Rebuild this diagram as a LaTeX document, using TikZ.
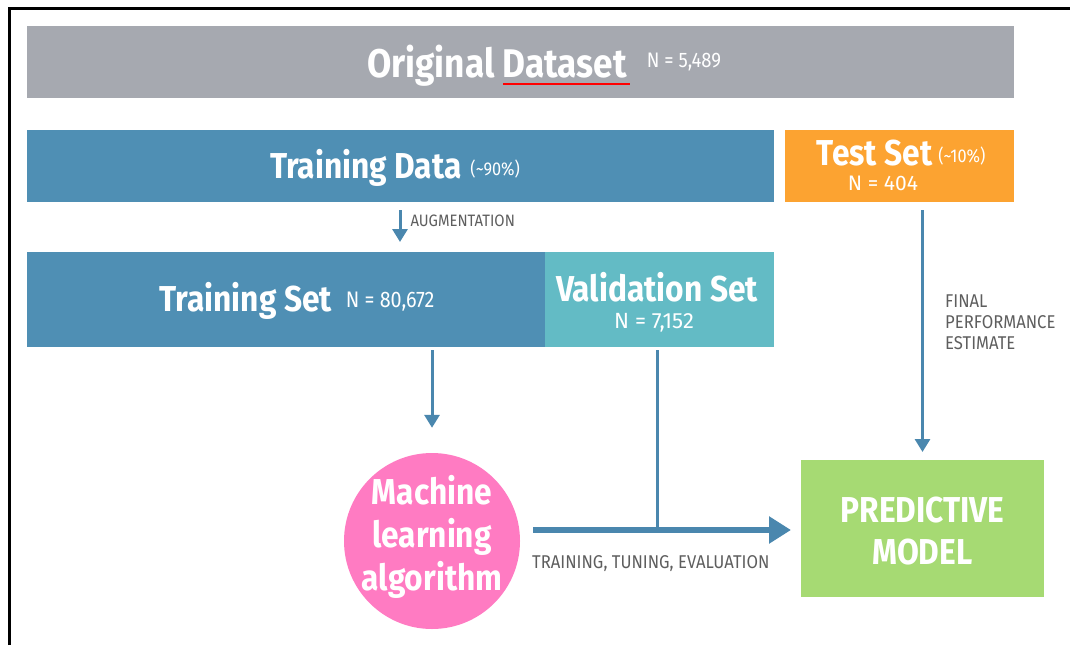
\documentclass[tikz,border=0pt]{standalone}
\usepackage{fontspec}
\setmainfont{Fira Sans}
\newfontfamily\headfont[FakeStretch=0.88]{Fira Sans}
\newfontfamily\notefont[FakeStretch=0.9]{Fira Sans}
\usetikzlibrary{arrows.meta,positioning}

\definecolor{dsgray}{HTML}{A6A9B0}
\definecolor{trblue}{HTML}{4F8FB4}
\definecolor{valteal}{HTML}{63BBC5}
\definecolor{testorange}{HTML}{FCA331}
\definecolor{mlpink}{HTML}{FF7BC2}
\definecolor{modgreen}{HTML}{A6DA73}
\definecolor{flowblue}{HTML}{4A87AE}
\definecolor{notegray}{HTML}{5E5E5E}

\newcommand\sm[2]{{\mdseries\fontsize{#1}{#1}\selectfont #2}}

\tikzset{
  block/.style={inner sep=0pt,outer sep=0pt,anchor=north west},
  head/.style={text=white,font=\headfont\bfseries\fontsize{36}{43}\selectfont},
  count/.style={text=white,font=\fontsize{22}{24}\selectfont},
  note/.style={text=notegray,font=\notefont\fontsize{16.5}{21}\selectfont,inner sep=0pt},
  flow/.style={flowblue,line width=3pt,-{Triangle[width=15pt,length=13pt]}},
  bigflow/.style={flowblue,line width=6pt,-{Triangle[width=26pt,length=22pt]}}
}

\begin{document}
\begin{tikzpicture}[x=1pt,y=-1pt]
\useasboundingbox (0,0) rectangle (1070,645);
\draw[line width=3pt] (9,645)--(9,8)--(1070,8);

% data blocks
\node[block,fill=dsgray,minimum width=987pt,minimum height=72pt] (orig) at (27,26) {};
\node[block,fill=trblue,minimum width=747pt,minimum height=72pt] (tdata) at (27,130) {};
\node[block,fill=testorange,minimum width=229pt,minimum height=72pt] (test) at (785,130) {};
\node[block,fill=trblue,minimum width=518pt,minimum height=95pt] (tset) at (27,252) {};
\node[block,fill=valteal,minimum width=229pt,minimum height=95pt] (vset) at (545,252) {};
\node[circle,fill=mlpink,minimum size=176pt,inner sep=0pt] (ml) at (432,541) {};
\node[block,fill=modgreen,minimum width=243pt,minimum height=137pt] (pm) at (801,460) {};

% labels
\node[anchor=base west,inner sep=0pt,head,font=\headfont\bfseries\fontsize{40}{46}\selectfont] (origlbl) at (367,77)
  {Original Dataset\hspace{20pt}\raisebox{10pt}{\sm{21}{N = 5,489}}};
\draw[red,line width=2.5pt] (503,84)--(630,84);
\node[anchor=base,inner sep=0pt,head] (tdlbl) at (395,178)
  {Training Data\hspace{9pt}\raisebox{3pt}{\sm{18.5}{(\textasciitilde90\%)}}};
\node[anchor=base,inner sep=0pt,head] (testlbl) at (901,165)
  {Test Set\hspace{6pt}\raisebox{3pt}{\sm{18.5}{(\textasciitilde10\%)}}};
\node[anchor=base,inner sep=0pt,count,font=\fontsize{21}{24}\selectfont] (testn) at (883,190) {N = 404};
\node[anchor=base,inner sep=0pt,head] (tslbl) at (297,311)
  {Training Set\hspace{14pt}\raisebox{4pt}{\sm{22.5}{N = 80,672}}};
\node[anchor=base,inner sep=0pt,head] (vslbl) at (657,301) {Validation Set};
\node[anchor=base,inner sep=0pt,count] (vsn) at (654,328) {N = 7,152};
\node[head,align=center,inner sep=0pt] (mllbl) at ([yshift=4pt]ml.center)
  {Machine\\learning\\algorithm};
\node[head,align=center,inner sep=0pt,font=\headfont\bfseries\fontsize{36}{42}\selectfont] (pmlbl) at ([yshift=-3pt]pm.center)
  {PREDICTIVE\\MODEL};

% connectors
\coordinate (augx) at (400,0);
\coordinate (joint) at (657,530);
\draw[flow,shorten <=8pt,shorten >=10pt] (tdata.south -| augx) -- (tset.north -| augx)
  node[note,pos=0.38,anchor=west,xshift=9pt] (auglbl) {AUGMENTATION};
\draw[flow,shorten <=3pt,shorten >=25pt] (tset.south -| ml) -- (ml.north);
\draw[flowblue,line width=3pt,shorten <=3pt] (vset.south -| joint) -- (joint);
\draw[bigflow,shorten >=10pt] ([xshift=13pt]ml.east |- joint) -- (pm.west |- joint);
\node[note,anchor=base west,font=\notefont\fontsize{18.5}{21}\selectfont] (tuning) at (532,568) {TRAINING, TUNING, EVALUATION};
\draw[flow,shorten <=8pt,shorten >=8pt] (test.south -| pm) -- (pm.north);
\node[note,anchor=base west,align=left,font=\notefont\fontsize{18.5}{21}\selectfont] (final) at (945,349) {FINAL\\PERFORMANCE\\ESTIMATE};
\end{tikzpicture}
\end{document}
